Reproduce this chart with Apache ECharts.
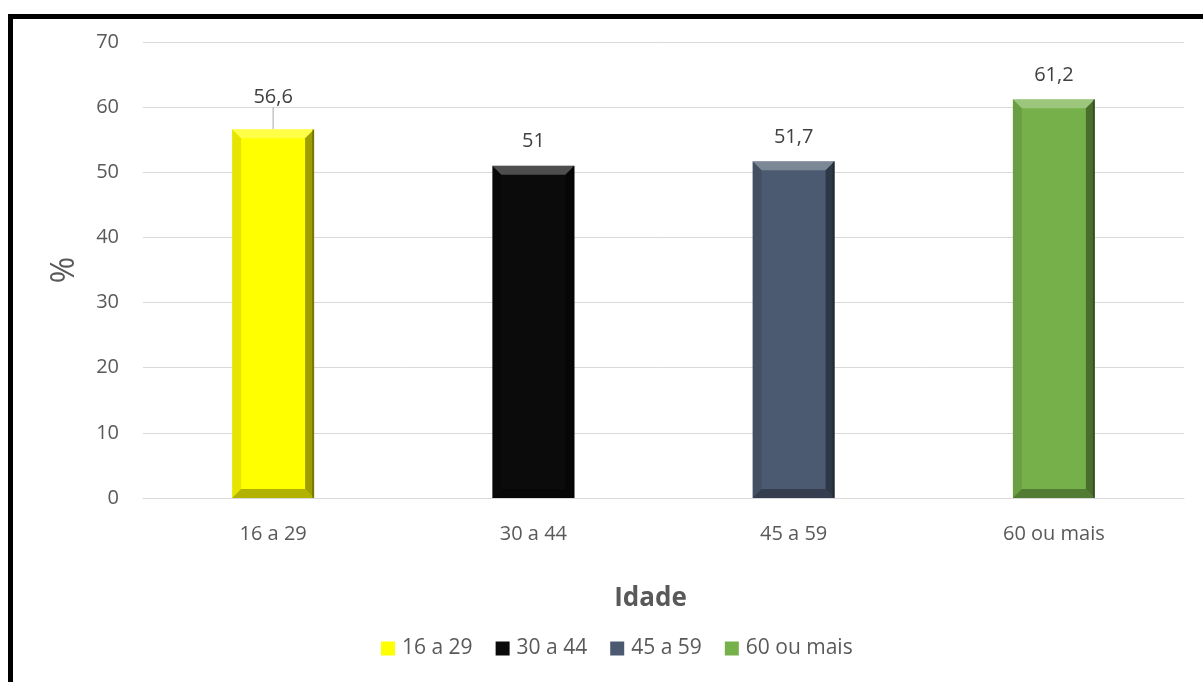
<!DOCTYPE html>
<html>
<head>
<meta charset="utf-8">
<script src="https://cdn.jsdelivr.net/npm/echarts@6/dist/echarts.min.js"></script>
<style>
  html, body { margin: 0; padding: 0; background: #fff; }
  #chart { width: 1203px; height: 682px; }
</style>
</head>
<body>
<div id="chart"></div>
<script>
// Age groups and the share (%) for each group
const categories = ['16 a 29', '30 a 44', '45 a 59', '60 ou mais'];
const values = [56.6, 51, 51.7, 61.2];
const yTicks = [0, 10, 20, 30, 40, 50, 60, 70];

// Fill colour of each group's bar
const barColors = ['#ffff00', '#0b0b0b', '#4b5a70', '#76b04a'];

const BAR_RATIO = 0.315;
const FONT = 'Open Sans';
const fmt = v => String(v).replace('.', ',');

// One series per age group so the legend lists each group
const series = categories.map((name, i) => {
  const s = {
    name: name,
    type: 'bar',
    stack: 'idade',
    barWidth: (BAR_RATIO * 100) + '%',
    data: categories.map((c, j) => (j === i ? values[i] : '-')),
    itemStyle: { color: barColors[i] },
    label: {
      show: true,
      position: 'top',
      distance: 14,
      color: '#404040',
      fontSize: 20,
      fontFamily: FONT,
      formatter: p => fmt(p.value)
    }
  };
  if (i === 0) {
    s.labelLayout = { dy: -8 };
    s.labelLine = { show: true, lineStyle: { color: '#a6a6a6', width: 1 } };
  }
  return s;
});

// Bevelled edges drawn over each bar
series.push({
  type: 'custom',
  name: 'bevel',
  silent: true,
  z: 5,
  data: values.map((v, i) => [i, v]),
  renderItem: (params, api) => {
    const topPt = api.coord([api.value(0), api.value(1)]);
    const basePt = api.coord([api.value(0), 0]);
    const w = api.size([1, 0])[0] * BAR_RATIO;
    const l = topPt[0] - w / 2, r = topPt[0] + w / 2;
    const t = topPt[1], b = basePt[1];
    const e = 9;
    const poly = (pts, fill) => ({ type: 'polygon', shape: { points: pts }, style: { fill: fill } });
    return {
      type: 'group',
      children: [
        poly([[l, t], [r, t], [r - e, t + e], [l + e, t + e]], 'rgba(255,255,255,0.28)'),
        poly([[l, t], [l + e, t + e], [l + e, b - e], [l, b]], 'rgba(0,0,0,0.10)'),
        poly([[r, t], [r - e, t + e], [r - e, b - e], [r, b]], 'rgba(0,0,0,0.38)'),
        poly([[l, b], [r, b], [r - e, b - e], [l + e, b - e]], 'rgba(0,0,0,0.30)'),
        { type: 'rect', shape: { x: r - 2, y: t, width: 2, height: b - t }, style: { fill: 'rgba(0,0,0,0.25)' } }
      ]
    };
  }
});

const chart = echarts.init(document.getElementById('chart'), null, { renderer: 'canvas' });
chart.setOption({
  backgroundColor: '#ffffff',
  animation: false,
  grid: { left: 143, right: 19, top: 42, bottom: 184 },
  legend: {
    data: categories.map(c => ({ name: c, icon: 'rect' })),
    bottom: 18,
    left: 376,
    itemWidth: 14,
    itemHeight: 14,
    itemGap: 23,
    textStyle: { color: '#595959', fontSize: 21, fontFamily: FONT, padding: [0, 0, 0, 2] }
  },
  xAxis: {
    type: 'category',
    data: categories,
    name: 'Idade',
    nameLocation: 'middle',
    nameGap: 88,
    nameTextStyle: { color: '#595959', fontSize: 26, fontWeight: 'bold', fontFamily: FONT, padding: [0, 26, 0, 0] },
    axisLine: { lineStyle: { color: '#d9d9d9', width: 1 } },
    axisTick: { show: false },
    axisLabel: { color: '#595959', fontSize: 20, margin: 26, fontFamily: FONT }
  },
  yAxis: {
    type: 'value',
    min: yTicks[0],
    max: yTicks[yTicks.length - 1],
    interval: 10,
    name: '%',
    nameLocation: 'middle',
    nameGap: 62,
    nameRotate: 90,
    nameTextStyle: { color: '#595959', fontSize: 32, fontFamily: FONT },
    axisLine: { show: false },
    axisTick: { show: false },
    axisLabel: { color: '#595959', fontSize: 20, margin: 24, fontFamily: FONT },
    splitLine: { lineStyle: { color: '#d9d9d9', width: 1 } }
  },
  graphic: [{
    type: 'rect',
    left: 8, top: 14,
    shape: { x: 0, y: 0, width: 1400, height: 900 },
    style: { fill: 'none', stroke: '#000', lineWidth: 5 },
    silent: true
  }],
  series: series
});
</script>
</body>
</html>
